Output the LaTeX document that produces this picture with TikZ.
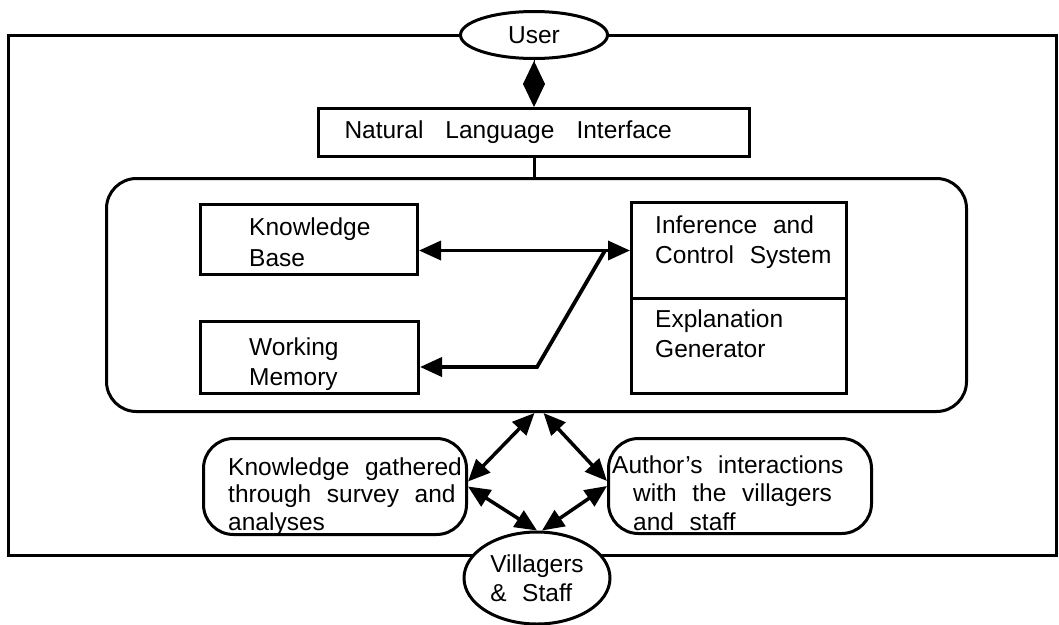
\documentclass[tikz,border=0pt]{standalone}
\usepackage{fontspec}
\setmainfont{Liberation Sans}[WordSpace=2.3]
\usetikzlibrary{arrows.meta,shapes.geometric}

\tikzset{
  box/.style={draw, line width=3pt, inner sep=0pt},
  txt/.style={align=left, inner sep=0pt, anchor=north west},
  arr/.style={line width=3.5pt, {Triangle[length=22pt,width=19pt]}-{Triangle[length=22pt,width=19pt]}},
}

\begin{document}
\begin{tikzpicture}[x=1pt, y=-1pt, every node/.style={font=\fontsize{24.5}{30}\selectfont}]
    \useasboundingbox (0,0) rectangle (1059,624);
    % outer frame
    \draw[line width=3pt] (8,35) rectangle (1056,555);
    % user side
    \node[box, ellipse, fill=white, minimum width=147pt, minimum height=47pt] (user) at (534,35) {User};
    \node[box, anchor=north west, minimum width=431pt, minimum height=48pt, text width=379pt, align=left, inner xsep=26pt] (nli) at (317,107) {Natural\hspace{0.9em}Language\hspace{0.9em}Interface};
    \draw[-{Diamond[length=46pt,width=22pt]}, line width=1pt] (user.south) -- (user.south |- nli.north);
    % expert system core
    \node[box, rounded corners=30pt, anchor=north west, minimum width=860pt, minimum height=233pt] (core) at (105,177) {};
    \draw[line width=3pt] (nli.south -| user.south) -- (user.south |- core.north);
    \node[box, anchor=north west, minimum width=217pt, minimum height=70pt] (kb) at (199,203) {};
    \node[box, anchor=north west, minimum width=218pt, minimum height=72pt] (wm) at (199,320) {};
    \node[box, anchor=north west, minimum width=215pt, minimum height=96pt] (inf) at (630,201) {};
    \node[box, anchor=north west, minimum width=215pt, minimum height=95pt] (expl) at (630,297) {};
    \node[txt, font=\fontsize{24.5}{31}\selectfont] (kbtext) at (249,217.5) {Knowledge\\Base};
    \node[txt] (wmtext) at (249,337.5) {Working\\Memory};
    \node[txt] (inftext) at (655,215.5) {Inference and\\Control System};
    \node[txt] (expltext) at (655,309.5) {Explanation\\Generator};
    \draw[arr] (inf.west) -- (inf.west -| kb.east);
    \coordinate (bend) at (537,367);
    \draw[line width=3.8pt, -{Triangle[length=22pt,width=19pt]}] ([xshift=-25pt]inf.west) -- (bend) -- (bend -| wm.east);
    % knowledge sources
    \node[box, rounded corners=30pt, anchor=north west, minimum width=263pt, minimum height=96pt] (kg) at (202,437) {};
    \node[box, rounded corners=30pt, anchor=north west, minimum width=263pt, minimum height=95pt] (auth) at (607,437) {};
    \node[txt, font=\fontsize{24.5}{27.5}\selectfont] (kgtext) at (228,457.5) {Knowledge gathered\\through survey and\\analyses};
    \node[txt, font=\fontsize{24.5}{28.5}\selectfont] (authtext) at (633,455.5) {\hspace*{-21pt}Author's interactions\\with the villagers\\and staff};
    \node[box, ellipse, fill=white, minimum width=146pt, minimum height=92pt, align=left, font=\fontsize{24.5}{29}\selectfont] (vil) at (537,578) {Villagers\\\& Staff};
    \draw[arr] ([xshift=-2pt]core.south) -- ([yshift=5pt]kg.east);
    \draw[arr] ([xshift=7pt]core.south) -- ([yshift=5pt]auth.west);
    \draw[arr] (kg.east) -- (vil.north);
    \draw[arr] (auth.west) -- ([xshift=5pt]vil.north);
\end{tikzpicture}
\end{document}
